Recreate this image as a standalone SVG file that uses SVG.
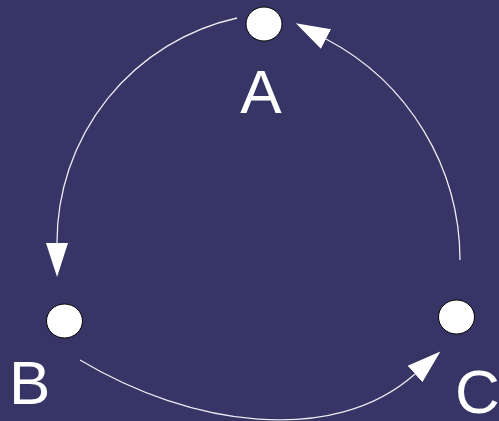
<svg xmlns="http://www.w3.org/2000/svg" width="499" height="421" viewBox="0 0 499 421">
<style>
.node{fill:#ffffff;stroke:#000000;stroke-width:1}
.lbl{fill:#ffffff;font-family:"Liberation Sans",Arial,sans-serif;font-size:62px}
.edge{fill:none;stroke:#ecebf2;stroke-width:1.3;marker-end:url(#ah)}
</style>
<defs>
<marker id="ah" markerUnits="userSpaceOnUse" markerWidth="36" markerHeight="24" viewBox="0 -12 36 24" refX="0" refY="0" orient="auto">
<path d="M0,-11 L34,0 L0,11 z" fill="#ffffff"/>
</marker>
</defs>
<rect width="499" height="421" fill="#363565"/>
<g id="connectors">
<path class="edge" d="M237,18 A230,230 0 0 0 57,243"/>
<path class="edge" d="M80,360 C190,426 333,447 415,374"/>
<path class="edge" d="M460,260 A250,250 0 0 0 326,39"/>
</g>
<g id="A">
<ellipse class="node" cx="264" cy="24" rx="18" ry="17"/>
<text class="lbl" x="261" y="113" text-anchor="middle">A</text>
</g>
<g id="B">
<ellipse class="node" cx="64.5" cy="321" rx="18" ry="17"/>
<text class="lbl" x="9" y="404">B</text>
</g>
<g id="C">
<ellipse class="node" cx="456.5" cy="317" rx="18" ry="17"/>
<text class="lbl" x="455" y="413">C</text>
</g>
</svg>
